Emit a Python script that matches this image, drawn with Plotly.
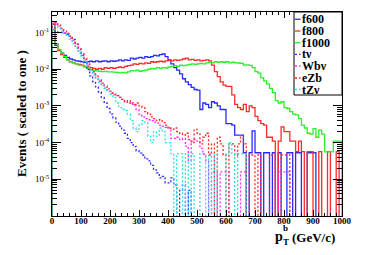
import plotly.graph_objects as go

# ---------------- data (10 GeV bins, 0-1000 GeV) ----------------
bin_width = 10
n_bins = 100

f600 = [0.17, 0.045, 0.033, 0.028, 0.024, 0.021, 0.019, 0.018, 0.017, 0.0165,
        0.016, 0.0155, 0.016, 0.0165, 0.016, 0.017, 0.016, 0.0165, 0.017, 0.016,
        0.017, 0.0165, 0.017, 0.018, 0.017, 0.018, 0.0175, 0.020, 0.019, 0.020,
        0.021, 0.020, 0.022, 0.021, 0.022, 0.024, 0.023, 0.025, 0.026, 0.022,
        0.018, 0.014, 0.011, 0.0095, 0.0075, 0.0055, 0.0045, 0.0038, 0.0032, 0.0028,
        0.0027, 0.0008, 0.0012, 0.0011, 0.0009, 0.0013, 0.0012, 0.0010, 0.0008, 0.0008,
        0.00033, 0.00033, 0.00030, 0.00016, 0.00016, 0.00016, 5.3e-5, 0, 5.3e-5, 0.00021,
        5.3e-5, 5.3e-5, 0, 5.3e-5, 5.3e-5, 0, 5.3e-5, 0, 5.3e-5, 0,
        0, 5.3e-5, 5.3e-5, 0, 5.3e-5, 5.3e-5, 0, 0, 5.3e-5, 5.3e-5,
        5.3e-5, 0, 0, 0, 0, 0, 0, 0, 0, 0]

f800 = [0.17, 0.05, 0.032, 0.025, 0.021, 0.018, 0.016, 0.015, 0.014, 0.0135,
        0.013, 0.012, 0.0115, 0.011, 0.0105, 0.010, 0.0105, 0.010, 0.011, 0.0105,
        0.011, 0.0105, 0.011, 0.0115, 0.011, 0.012, 0.0125, 0.013, 0.014, 0.0135,
        0.0145, 0.014, 0.015, 0.0145, 0.016, 0.0155, 0.016, 0.0165, 0.016, 0.017,
        0.0175, 0.017, 0.018, 0.0175, 0.018, 0.019, 0.020, 0.018, 0.0185, 0.0175,
        0.018, 0.017, 0.0175, 0.018, 0.017, 0.013, 0.0086, 0.0063, 0.0045, 0.0037,
        0.0034, 0.0034, 0.0020, 0.0011, 0.0009, 0.0008, 0.0011, 0.0007, 0.0010, 0.0009,
        0.00052, 0.0004, 0.00033, 0.0003, 0.00014, 0.00014, 0.00011, 0, 0.00011, 0.00027,
        0.0002, 0.0002, 0.00011, 0.00011, 5.7e-5, 0.00011, 5.7e-5, 0, 5.7e-5, 5.7e-5,
        0, 0, 5.7e-5, 0, 0, 5.7e-5, 0, 0, 5.7e-5, 0]

f1000 = [0.12, 0.05, 0.035, 0.028, 0.022, 0.018, 0.016, 0.015, 0.014, 0.013,
         0.0125, 0.0115, 0.0105, 0.0098, 0.0092, 0.009, 0.0088, 0.0086, 0.0087, 0.0085,
         0.0085, 0.0083, 0.0082, 0.0080, 0.0082, 0.0080, 0.0085, 0.0092, 0.0090, 0.0095,
         0.0088, 0.0092, 0.0095, 0.010, 0.0105, 0.0102, 0.011, 0.0105, 0.011, 0.0108,
         0.0115, 0.012, 0.0125, 0.012, 0.013, 0.0125, 0.013, 0.0135, 0.014, 0.0135,
         0.014, 0.0145, 0.014, 0.015, 0.0155, 0.015, 0.016, 0.0155, 0.016, 0.0155,
         0.016, 0.015, 0.0155, 0.015, 0.0148, 0.0145, 0.013, 0.0132, 0.0128, 0.011,
         0.0086, 0.0078, 0.0058, 0.0048, 0.0040, 0.0030, 0.0023, 0.0014, 0.0012, 0.0013,
         0.0009, 0.00085, 0.0007, 0.0006, 0.00057, 0.00045, 0.0003, 0.00025, 0.00018, 0.00017,
         0.00024, 0.00014, 0.00022, 0.00017, 5.6e-5, 5.6e-5, 5.6e-5, 0.00011, 0.00011, 0.00011]

t_nu = [0.12, 0.105, 0.10, 0.10, 0.095, 0.09, 0.08, 0.065, 0.048, 0.035,
        0.024, 0.015, 0.0098, 0.0066, 0.0046, 0.0033, 0.0024, 0.0017, 0.0012, 0.00085,
        0.0006, 0.00047, 0.00036, 0.00028, 0.00022, 0.00018, 0.00013, 0.0001, 7.8e-5, 6e-5,
        5.2e-5, 4.6e-5, 3.6e-5, 3.2e-5, 2.4e-5, 1.8e-5, 1.5e-5, 1.1e-5, 1.2e-5, 8e-6,
        8e-6, 1.1e-5, 7e-6, 0, 5e-6, 7e-6, 0, 5e-6, 0, 0,
        0, 0, 0, 0, 0, 0, 0, 0, 0, 0,
        0, 0, 0, 0, 0, 0, 0, 0, 0, 0,
        0, 0, 0, 0, 0, 0, 0, 0, 0, 0,
        0, 0, 0, 0, 0, 0, 0, 0, 0, 0,
        0, 0, 0, 0, 0, 0, 0, 0, 0, 0]

wb_nu = [0.18, 0.17, 0.15, 0.12, 0.10, 0.085, 0.07, 0.055, 0.042, 0.032,
         0.024, 0.018, 0.013, 0.0098, 0.0075, 0.0058, 0.0047, 0.0038, 0.0031, 0.0026,
         0.0022, 0.0020, 0.0019, 0.0017, 0.0015, 0.0013, 0.0012, 0.0011, 0.0010, 0.0008,
         0.00055, 0.0005, 0.00045, 0.00042, 0.0004, 0.00036, 0.00034, 0.0003, 0.00028, 0.00026,
         0.00025, 0.00013, 0.00013, 0.00014, 0.00012, 0.00013, 8e-5, 3.2e-5, 0.00011, 0.00012,
         0.00011, 7e-5, 4.8e-5, 3.2e-5, 0, 1.6e-5, 1.6e-5, 0, 1.6e-5, 1.6e-5,
         1.6e-5, 0, 0, 0, 0, 1.6e-5, 1.6e-5, 0, 0, 0,
         0, 0, 0, 0, 0, 0, 0, 0, 1.6e-5, 1.6e-5,
         1.6e-5, 1.6e-5, 0, 0, 0, 0, 0, 0, 0, 0,
         0, 0, 0, 0, 0, 0, 0, 0, 0, 0]

e_zb = [0.20, 0.19, 0.16, 0.13, 0.11, 0.095, 0.08, 0.062, 0.048, 0.036,
        0.027, 0.020, 0.015, 0.011, 0.0085, 0.0065, 0.0052, 0.0042, 0.0035, 0.0029,
        0.0025, 0.0021, 0.0019, 0.0017, 0.0015, 0.0013, 0.0014, 0.0012, 0.0011, 0.0012,
        0.0010, 0.0009, 0.0007, 0.0006, 0.0005, 0.00045, 0.0004, 0.00042, 0.00035, 0.0003,
        0.00025, 0.00023, 0.00025, 0.0002, 0.00018, 0.00016, 0.00018, 0.00012, 0.0001, 0.00023,
        0.00018, 9.2e-5, 0.00014, 0.00018, 4.6e-5, 9.2e-5, 0, 0.00014, 9.2e-5, 4.6e-5,
        0, 9.2e-5, 9.2e-5, 4.6e-5, 9.2e-5, 0.00014, 9.2e-5, 0, 4.6e-5, 4.6e-5,
        0, 4.6e-5, 0, 0, 0, 4.6e-5, 4.6e-5, 0, 0, 4.6e-5,
        4.6e-5, 4.6e-5, 0, 0, 0, 0, 0, 0, 0, 0,
        0, 0, 0, 0, 0, 0, 0, 0, 0, 0]

tz_nu = [0.16, 0.15, 0.13, 0.11, 0.095, 0.08, 0.065, 0.05, 0.038, 0.028,
         0.021, 0.016, 0.012, 0.009, 0.007, 0.0055, 0.0044, 0.0036, 0.003, 0.0025,
         0.0021, 0.0017, 0.0012, 0.0009, 0.0008, 0.00075, 0.0006, 0.0004, 0.00025, 0.0002,
         0.0003, 0.0004, 0.00035, 0.00015, 0.0001, 0.0002, 0.00015, 0.00025, 0.0002, 0.0001,
         0.0001, 5e-5, 0, 5e-5, 5e-5, 0, 5e-5, 0, 5e-5, 0,
         0, 5e-5, 5e-5, 0, 5e-5, 0, 5e-5, 0, 0, 0,
         5e-5, 1e-4, 5e-5, 0, 5e-5, 5e-5, 5e-5, 0, 0, 0,
         0, 0, 0, 0, 0, 0, 0, 0, 0, 0,
         0, 0, 0, 0, 0, 0, 0, 0, 0, 0,
         0, 0, 0, 0, 0, 0, 0, 0, 0, 0]

series_names = ["f600", "f800", "f1000", "t\u03bd", "Wb\u03bd", "eZb", "tZ\u03bd"]
series_values = [f600, f800, f1000, t_nu, wb_nu, e_zb, tz_nu]
series_colors = ["#2a2aff", "#ff2a2a", "#2af02a", "#2a2aff", "#ff2aff", "#ff2a2a", "#2ae0e0"]
series_dash = ["solid", "solid", "solid", "2px,2px", "2px,2px", "2px,2px", "2px,2px"]

x_tick_vals = [0, 100, 200, 300, 400, 500, 600, 700, 800, 900, 1000]
y_tick_vals = [1e-5, 1e-4, 1e-3, 1e-2, 1e-1]
y_tick_text = ["10<sup>-5</sup>", "10<sup>-4</sup>", "10<sup>-3</sup>", "10<sup>-2</sup>", "10<sup>-1</sup>"]

# ---------------- figure ----------------
# page has an 8px body margin; figure is sized/offset so the frame lands at
# page pixels x 52..342, y 12..216
OFF = 8
W, H = 374 - OFF, 255 - OFF
L, R, T, B = 52 - OFF, 32, 12 - OFF, 39
floor = 1e-9
edges = [i * bin_width for i in range(n_bins + 1)]


def px_x(p):  # page pixel -> paper
    return (p - OFF - L) / (W - L - R)


def px_y(p):
    return (H - B - (p - OFF)) / (H - T - B)


fig = go.Figure()
for name, vals, col, dash in zip(series_names, series_values, series_colors, series_dash):
    ys = [v if v > 0 else floor for v in vals]
    xs = [edges[0]] + edges + [edges[-1]]
    yy = [floor] + ys + [ys[-1]] + [floor]
    fig.add_trace(go.Scatter(x=xs, y=yy, mode="lines", line_shape="hv", name=name,
                             line=dict(color=col, width=1.3, dash=dash),
                             showlegend=False, hoverinfo="skip"))

minor_y = []
for e in range(-6, 0):
    for m in range(2, 10):
        minor_y.append(m * 10 ** e)

fig.update_layout(
    template="none",
    width=W, height=H,
    margin=dict(l=L, r=R, t=T, b=B, pad=0, autoexpand=False),
    paper_bgcolor="white", plot_bgcolor="white",
    showlegend=False,
    font=dict(family="Liberation Serif", color="black"),
)
fig.update_xaxes(range=[0, 1000], showgrid=False, zeroline=False, automargin=False,
                 showline=True, linecolor="black", linewidth=1, mirror="ticks",
                 ticks="inside", ticklen=6, tickcolor="black", tickwidth=1,
                 tickvals=x_tick_vals, ticktext=["<b>%d</b>" % v for v in x_tick_vals],
                 tickfont=dict(size=9, family="Liberation Serif"), ticklabelstandoff=-4,
                 minor=dict(ticks="inside", ticklen=3, tickcolor="black", dtick=20, tick0=0))
fig.update_yaxes(type="log", range=[-6, -0.44], showgrid=False, zeroline=False, automargin=False,
                 showline=True, linecolor="black", linewidth=1, mirror="ticks",
                 ticks="inside", ticklen=9, tickcolor="black", tickwidth=1,
                 tickvals=y_tick_vals, ticktext=y_tick_text,
                 tickfont=dict(size=9, family="Liberation Serif"),
                 minor=dict(ticks="inside", ticklen=5, tickcolor="black", tickvals=minor_y))


def note(text, x, y, size, xanchor="center", angle=0):
    fig.add_annotation(text=text, x=px_x(x), y=px_y(y), xref="paper", yref="paper",
                       xanchor=xanchor, yanchor="middle", textangle=angle,
                       showarrow=False, borderpad=0,
                       font=dict(size=size, family="Liberation Serif", color="black"))


# y title
note("<b>Events ( scaled to one )</b>", 21, 114, 13, angle=-90)
# x title p_T^b (GeV/c)
note("<b>p</b>", 278.5, 236, 14)
note("<b>b</b>", 285.5, 228, 9)
note("<b>T</b>", 285.5, 242, 9)
note("<b>(GeV/c)</b>", 336, 237, 13, xanchor="right")

# legend box
fig.add_shape(type="rect", xref="paper", yref="paper",
              x0=px_x(294), x1=px_x(342), y0=px_y(95), y1=px_y(12),
              line=dict(color="black", width=1), fillcolor="white", layer="above")
row_y = [19.3, 31, 42.7, 54.3, 66, 78, 89.5]
for name, col, dash, ry in zip(series_names, series_colors, series_dash, row_y):
    fig.add_shape(type="line", xref="paper", yref="paper",
                  x0=px_x(295), x1=px_x(300.5), y0=px_y(ry), y1=px_y(ry),
                  line=dict(color=col, width=1.3, dash=dash), layer="above")
    note("<b>%s</b>" % name, 301, ry, 12, xanchor="left")

fig.write_html("out.html")
